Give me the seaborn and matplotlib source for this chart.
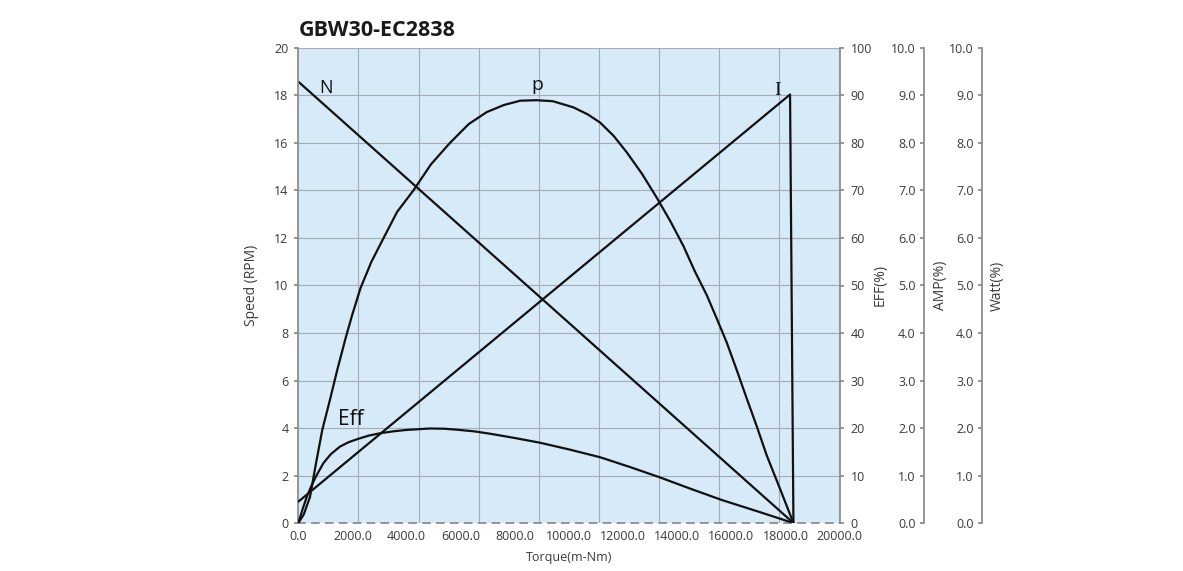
import numpy as np
import matplotlib
matplotlib.use("Agg")
import matplotlib.pyplot as plt
import seaborn as sns

# values
torque_n = [0, 18295]
speed = [18.58, 0]

torque_i = [0, 18170, 18295]
amp = [0.45, 9.02, 0]

torque_p = [0, 200, 430, 650, 880, 1170, 1450, 1750, 2000, 2300, 2700, 3150,
            3650, 4250, 4900, 5600, 6300, 6960, 7600, 8200, 8800, 9400, 10163,
            10700, 11150, 11650, 12140, 12700, 13243, 13750, 14230, 14650,
            15090, 15450, 15830, 16200, 16570, 16950, 17310, 17800, 18295]
watt = [0, 0.18, 0.55, 1.25, 1.95, 2.6, 3.25, 3.9, 4.4, 4.95, 5.5, 6.0,
        6.55, 7.0, 7.55, 8.0, 8.4, 8.65, 8.8, 8.89, 8.9, 8.88, 8.75,
        8.6, 8.43, 8.15, 7.8, 7.35, 6.85, 6.35, 5.83, 5.3,
        4.8, 4.32, 3.8, 3.22, 2.62, 2.02, 1.42, 0.72, 0]

torque_eff = [0, 150, 310, 480, 650, 924, 1200, 1541, 1850, 2200, 2600, 3019,
              3500, 4000, 4866, 5400, 5852, 6500, 7084, 8000, 8932, 10000,
              11150, 12250, 13367, 14500, 15647, 17000, 18295]
eff = [0, 2.8, 5.5, 7.8, 9.8, 12.6, 14.5, 16.1, 17.0, 17.7, 18.4, 18.9,
       19.3, 19.6, 19.9, 19.85, 19.65, 19.3, 18.8, 17.9, 16.9, 15.5,
       13.85, 11.8, 9.6, 7.2, 4.85, 2.4, 0]

x_ticks = np.arange(0, 20001, 2000)
speed_ticks = np.arange(0, 21, 2)
eff_ticks = np.arange(0, 101, 10)
amp_ticks = np.arange(0, 10.1, 1.0)

sns.set_theme(style="white")
plt.rcParams['font.family'] = ['Open Sans', 'DejaVu Sans']

txt = '#3a3a3a'
spine_c = '#8a8a8a'
grid_c = '#a3adb8'

fig = plt.figure(figsize=(11.83, 5.71), dpi=100)
ax = fig.add_axes([0.2522, 0.084, 0.4575, 0.832])
ax.set_facecolor('#d7eaf8')

ax2 = ax.twinx()
ax3 = ax.twinx()
ax4 = ax.twinx()

line_kw = dict(color='#111111', linewidth=1.6, sort=False, estimator=None, legend=False)
sns.lineplot(x=torque_n, y=speed, ax=ax, **line_kw)
sns.lineplot(x=torque_eff, y=eff, ax=ax2, **line_kw)
sns.lineplot(x=torque_i, y=amp, ax=ax3, **line_kw)
sns.lineplot(x=torque_p, y=watt, ax=ax4, **line_kw)

# main axis
ax.set_xlim(0, 20000)
ax.set_ylim(0, 20)
ax.set_xticks(x_ticks)
ax.set_xticklabels([f"{v:.1f}" for v in x_ticks])
ax.set_xticks(np.linspace(0, 20000, 10), minor=True)
ax.set_yticks(speed_ticks)
ax.grid(which='minor', axis='x', color=grid_c, linewidth=0.8)
ax.grid(which='major', axis='y', color=grid_c, linewidth=0.8)
ax.grid(which='major', axis='x', visible=False)
ax.set_axisbelow(True)
ax.tick_params(axis='x', which='major', direction='in', length=4, color=spine_c,
               labelcolor=txt, labelsize=9, pad=5)
ax.tick_params(axis='x', which='minor', length=0)
ax.tick_params(axis='y', direction='out', length=3, color=spine_c,
               labelcolor=txt, labelsize=9, pad=4, left=True)
for s in ['top', 'right']:
    ax.spines[s].set_visible(False)
ax.spines['left'].set_color(spine_c)
ax.spines['bottom'].set_color(spine_c)
ax.spines['bottom'].set_linestyle((0, (4, 4)))
ax.set_xlabel("Torque(m-Nm)", fontsize=9, color=txt, labelpad=6)
ax.set_ylabel("Speed (RPM)", fontsize=10, color=txt)
ax.yaxis.set_label_coords(-0.087, 0.5)
ax.yaxis.label.set_va('center')

# EFF axis
ax2.set_ylim(0, 100)
ax2.set_yticks(eff_ticks)
ax2.set_yticklabels([str(v) for v in eff_ticks])
ax2.tick_params(axis='y', direction='out', length=3, color=spine_c,
                labelcolor=txt, labelsize=9, pad=5, right=True)
for s in ['top', 'left', 'bottom']:
    ax2.spines[s].set_visible(False)
ax2.spines['right'].set_color(spine_c)
ax2.set_ylabel("EFF(%)", fontsize=10, color=txt)
ax2.yaxis.set_label_coords(1.075, 0.5)
ax2.yaxis.label.set_va('center')

# AMP and Watt axes, spines pushed out to the right, labels on the left of the spine
for a, pos, lab, lx in [(ax3, 1.156, "AMP(%)", 1.186), (ax4, 1.263, "Watt(%)", 1.291)]:
    a.set_ylim(0, 10)
    a.set_yticks(amp_ticks)
    a.set_yticklabels([f"{v:.1f}" for v in amp_ticks])
    for s in ['top', 'right', 'bottom']:
        a.spines[s].set_visible(False)
    a.spines['left'].set_visible(True)
    a.spines['left'].set_position(('axes', pos))
    a.spines['left'].set_color(spine_c)
    a.yaxis.set_ticks_position('left')
    a.tick_params(axis='y', direction='out', length=3, color=spine_c,
                  labelcolor=txt, labelsize=9, pad=3)
    a.set_ylabel(lab, fontsize=10, color=txt)
    a.yaxis.set_label_coords(lx, 0.5)
    a.yaxis.label.set_va('center')

# curve names
ax.text(1024, 18.3, "N", fontsize=13, color='#111111', ha='center', va='center')
ax.text(8820, 18.45, "p", fontsize=14, color='#111111', ha='center', va='center')
ax.text(17725, 18.2, "I", fontsize=14, color='#111111', ha='center', va='center',
        family=['Liberation Serif', 'DejaVu Serif'])
ax.text(1950, 4.35, "Eff", fontsize=15, color='#111111', ha='center', va='center')

fig.text(0.2522, 0.946, "GBW30-EC2838", fontsize=15.5, fontweight='bold',
         color='#1a1a1a', ha='left', va='center')

fig.savefig("out.png", dpi=100)
